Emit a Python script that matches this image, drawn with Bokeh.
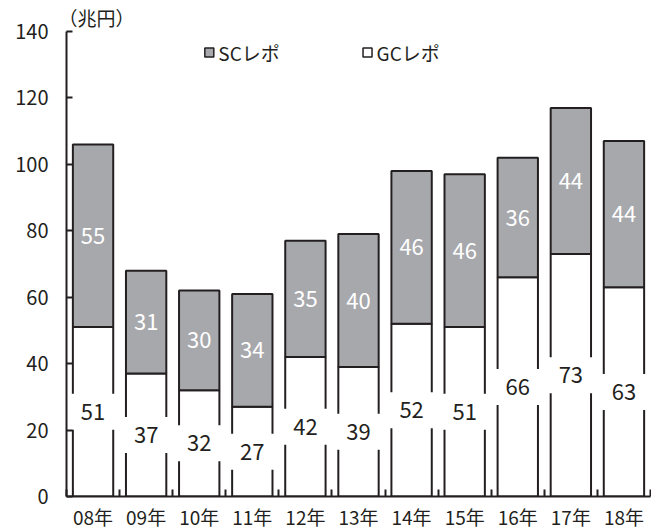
from bokeh.plotting import figure
from bokeh.models import ColumnDataSource, Range1d, FixedTicker, Label
from bokeh.core.properties import value
from bokeh.embed import file_html
from bokeh.resources import INLINE

# Repo amounts by fiscal year (trillion yen)
years = ["08年", "09年", "10年", "11年", "12年", "13年", "14年", "15年", "16年", "17年", "18年"]
gc_repo = [51, 37, 32, 27, 42, 39, 52, 51, 66, 73, 63]
sc_repo = [55, 31, 30, 34, 35, 40, 46, 46, 36, 44, 44]
y_ticks = [0, 20, 40, 60, 80, 100, 120, 140]

FONT = "Noto Sans CJK JP"
INK = "#231f20"
GRAY = "#a7a8ac"

xs = list(range(len(years)))
src = ColumnDataSource(dict(
    x=xs,
    gc=gc_repo,
    sc=sc_repo,
    gc_mid=[g / 2 for g in gc_repo],
    sc_mid=[g + s / 2 for g, s in zip(gc_repo, sc_repo)],
    gc_lab=[str(g) for g in gc_repo],
    sc_lab=[str(s) for s in sc_repo],
))

p = figure(width=651, height=532,
           x_range=Range1d(-0.5, len(years) - 0.5), y_range=Range1d(0, 140),
           output_backend="svg", toolbar_location=None,
           min_border_left=66, min_border_right=1,
           min_border_top=31, min_border_bottom=35)
p.outline_line_color = None
p.xgrid.visible = False
p.ygrid.visible = False
p.background_fill_color = "white"

# unit label above the y axis
p.title.text = "（兆円）"
p.title.align = "left"
p.title.offset = -8
p.title.standoff = 1
p.title.text_font = FONT
p.title.text_font_size = "19px"
p.title.text_font_style = "normal"
p.title.text_color = INK

# stacked bars: GC at the bottom, SC on top
p.vbar_stack(["gc", "sc"], x="x", width=0.76, source=src,
             fill_color=["white", GRAY], line_color=INK, line_width=2)

# white boxes behind the GC values
p.rect(x="x", y="gc_mid", width=44, height=36, width_units="screen",
       height_units="screen", source=src, fill_color="white", line_color=None)

p.text(x="x", y="gc_mid", text="gc_lab", source=src, text_align="center",
       text_baseline="middle", text_font=value(FONT), text_font_size="22px",
       text_color=INK)
p.text(x="x", y="sc_mid", text="sc_lab", source=src, text_align="center",
       text_baseline="middle", text_font=value(FONT), text_font_size="22px",
       text_color="white")

# legend
p.scatter(x=[2.19, 5.17], y=[133.7, 133.7], marker="square", size=9,
          fill_color=[GRAY, "white"], line_color=INK, line_width=1.5)
for lx, txt in [(2.36, "SCレポ"), (5.34, "GCレポ")]:
    p.add_layout(Label(x=lx, y=133.7, text=txt, text_font=FONT,
                       text_font_size="19px", text_color=INK,
                       text_baseline="middle", text_align="left"))

# y axis
ya = p.yaxis[0]
ya.ticker = FixedTicker(ticks=y_ticks)
ya.axis_line_color = INK
ya.axis_line_width = 2
ya.major_tick_in = 6
ya.major_tick_out = 0
ya.major_tick_line_color = INK
ya.major_tick_line_width = 2
ya.minor_tick_line_color = None
ya.major_label_standoff = 18
ya.major_label_text_font = FONT
ya.major_label_text_font_size = "20px"
ya.major_label_text_color = INK

# x axis: labels at bar centers, ticks between bars
xa = p.xaxis[0]
xa.ticker = FixedTicker(ticks=xs, minor_ticks=[i - 0.5 for i in range(len(years) + 1)])
xa.major_label_overrides = {i: y for i, y in enumerate(years)}
xa.axis_line_color = INK
xa.axis_line_width = 2
xa.major_tick_line_color = None
xa.minor_tick_line_color = INK
xa.minor_tick_line_width = 2
xa.minor_tick_in = 7
xa.minor_tick_out = 0
xa.major_label_standoff = 0
xa.axis_label_standoff = 0
xa.major_label_text_font = FONT
xa.major_label_text_font_size = "19px"
xa.major_label_text_color = INK

open("out.html", "w").write(file_html(p, INLINE))
